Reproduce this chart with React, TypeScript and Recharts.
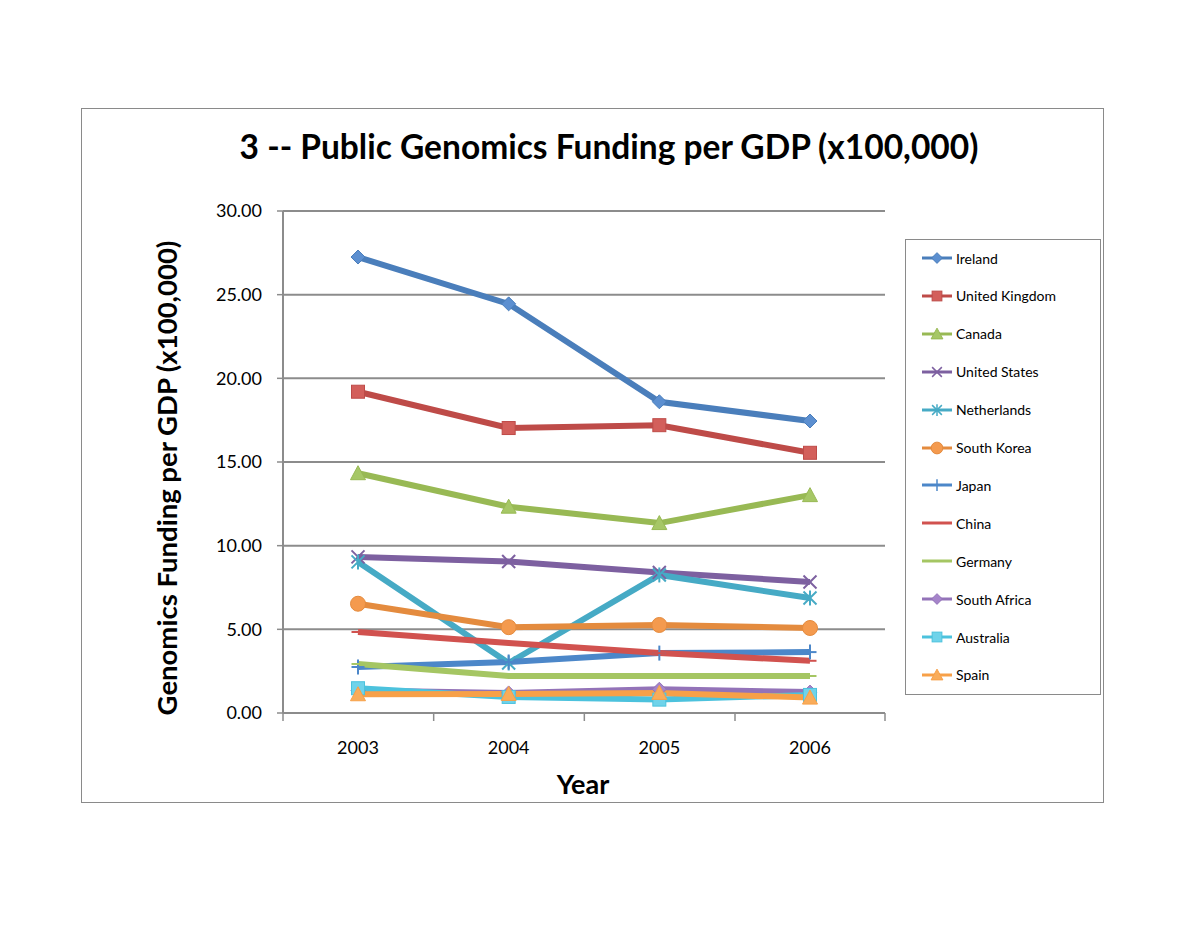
import React from "react";
import { LineChart, Line, XAxis, YAxis, CartesianGrid } from "recharts";

const years = ["2003", "2004", "2005", "2006"];
const ireland = [27.25, 24.45, 18.6, 17.45];
const unitedKingdom = [19.2, 17.03, 17.2, 15.55];
const canada = [14.33, 12.33, 11.35, 13.02];
const unitedStates = [9.33, 9.05, 8.4, 7.83];
const netherlands = [9.03, 2.99, 8.25, 6.87];
const southKorea = [6.53, 5.13, 5.26, 5.08];
const japan = [2.75, 3.05, 3.58, 3.64];
const china = [4.84, 4.18, 3.58, 3.12];
const germany = [2.93, 2.21, 2.21, 2.21];
const southAfrica = [1.35, 1.2, 1.42, 1.25];
const australia = [1.48, 0.96, 0.8, 1.08];
const spain = [1.12, 1.14, 1.2, 0.92];
const yTicks = [0, 5, 10, 15, 20, 25, 30];

type Shape = "diamond" | "square" | "triangle" | "x" | "star" | "circle" | "plus" | "dash";
type Series = { key: string; values: number[]; color: string; fill: string; shape: Shape };

const series: Series[] = [
  { key: "Ireland", values: ireland, color: "#4A7EBB", fill: "#5C8FD0", shape: "diamond" },
  { key: "United Kingdom", values: unitedKingdom, color: "#BE4B48", fill: "#D35F5B", shape: "square" },
  { key: "Canada", values: canada, color: "#98B954", fill: "#A6C766", shape: "triangle" },
  { key: "United States", values: unitedStates, color: "#7D60A0", fill: "#7D60A0", shape: "x" },
  { key: "Netherlands", values: netherlands, color: "#46AAC5", fill: "#46AAC5", shape: "star" },
  { key: "South Korea", values: southKorea, color: "#E48B3E", fill: "#F49A4E", shape: "circle" },
  { key: "Japan", values: japan, color: "#4C87C9", fill: "#4C87C9", shape: "plus" },
  { key: "China", values: china, color: "#D1524F", fill: "#D1524F", shape: "dash" },
  { key: "Germany", values: germany, color: "#A5C663", fill: "#A5C663", shape: "dash" },
  { key: "South Africa", values: southAfrica, color: "#9373B8", fill: "#A584CA", shape: "diamond" },
  { key: "Australia", values: australia, color: "#4CC2DD", fill: "#6FD3EA", shape: "square" },
  { key: "Spain", values: spain, color: "#F7A048", fill: "#F9AC5A", shape: "triangle" },
];

const data = years.map((y, i) => {
  const row: Record<string, string | number> = { year: y };
  series.forEach((s) => {
    row[s.key] = s.values[i];
  });
  return row;
});

function Marker({ shape, cx, cy, color, fill, scale = 1 }: { shape: Shape; cx: number; cy: number; color: string; fill: string; scale?: number }) {
  const r = 6.5 * scale;
  const sw = 2 * scale;
  switch (shape) {
    case "diamond":
      return <polygon points={`${cx},${cy - r - 0.5} ${cx + r + 0.5},${cy} ${cx},${cy + r + 0.5} ${cx - r - 0.5},${cy}`} fill={fill} stroke={color} strokeWidth={1} />;
    case "square":
      return <rect x={cx - r} y={cy - r} width={2 * r} height={2 * r} fill={fill} stroke={color} strokeWidth={1} />;
    case "triangle":
      return <polygon points={`${cx},${cy - r - 1} ${cx + r + 1},${cy + r} ${cx - r - 1},${cy + r}`} fill={fill} stroke={color} strokeWidth={1} />;
    case "x":
      return (
        <g stroke={color} strokeWidth={sw}>
          <line x1={cx - r} y1={cy - r} x2={cx + r} y2={cy + r} />
          <line x1={cx - r} y1={cy + r} x2={cx + r} y2={cy - r} />
        </g>
      );
    case "star":
      return (
        <g stroke={color} strokeWidth={sw}>
          <line x1={cx - r} y1={cy - r} x2={cx + r} y2={cy + r} />
          <line x1={cx - r} y1={cy + r} x2={cx + r} y2={cy - r} />
          <line x1={cx} y1={cy - r - 1} x2={cx} y2={cy + r + 1} />
        </g>
      );
    case "circle":
      return <circle cx={cx} cy={cy} r={r + 1} fill={fill} stroke={color} strokeWidth={1} />;
    case "plus":
      return (
        <g stroke={color} strokeWidth={sw}>
          <line x1={cx} y1={cy - r - 1} x2={cx} y2={cy + r + 1} />
          <line x1={cx - r} y1={cy} x2={cx + r} y2={cy} />
        </g>
      );
    case "dash":
    default:
      return <line x1={cx - r} y1={cy} x2={cx + r} y2={cy} stroke={color} strokeWidth={sw} />;
  }
}

const font = "Lato, 'Open Sans', sans-serif";

const W = 1200;
const H = 927;
const M = { top: 211, right: 315, bottom: 154, left: 203 };
const X_AXIS_H = 60;
const BAND_PAD = 75;
const plotBottom = H - M.bottom - X_AXIS_H;

function YearTick(p: any) {
  const x = p.payload.coordinate;
  const last = p.index === (p.visibleTicksCount ?? years.length) - 1;
  return (
    <g>
      <line x1={x - BAND_PAD} y1={plotBottom} x2={x - BAND_PAD} y2={plotBottom + 8} stroke="#8C8C8C" strokeWidth={1.5} />
      {last && <line x1={x + BAND_PAD} y1={plotBottom} x2={x + BAND_PAD} y2={plotBottom + 8} stroke="#8C8C8C" strokeWidth={1.5} />}
      <text x={x} y={plotBottom + 41} textAnchor="middle" fontSize={18} fill="#000" fontFamily={font}>
        {p.payload.value}
      </text>
    </g>
  );
}

export default function App() {
  return (
    <div style={{ position: "absolute", left: 0, top: 0, width: W, height: H, background: "#fff", fontFamily: font }}>
      <div style={{ position: "absolute", left: 81, top: 108, width: 1021, height: 693, border: "1px solid #8a8a8a" }} />
      <div style={{ position: "absolute", left: 0, top: 126, width: 1218, textAlign: "center", fontSize: 33.5, fontWeight: 700, color: "#000" }}>
        3 -- Public Genomics Funding per GDP (x100,000)
      </div>
      <div
        style={{
          position: "absolute",
          left: 166,
          top: 478,
          transform: "translate(-50%, -50%) rotate(-90deg)",
          whiteSpace: "nowrap",
          fontSize: 27.5,
          fontWeight: 700,
          color: "#000",
        }}
      >
        Genomics Funding per GDP (x100,000)
      </div>
      <div style={{ position: "absolute", left: 533, top: 767, width: 100, textAlign: "center", fontSize: 27, fontWeight: 700, color: "#000" }}>
        Year
      </div>
      <div style={{ position: "absolute", left: 0, top: 0 }}>
        <LineChart width={W} height={H} data={data} margin={M}>
          <CartesianGrid vertical={false} stroke="#8C8C8C" strokeWidth={2} />
          <XAxis
            dataKey="year"
            padding={{ left: BAND_PAD, right: BAND_PAD }}
            height={X_AXIS_H}
            axisLine={{ stroke: "#8C8C8C", strokeWidth: 2 }}
            tickLine={false}
            tick={(p: any) => <YearTick key={`yt-${p.index}`} {...p} />}
          />
          <YAxis
            width={80}
            domain={[0, 30]}
            ticks={yTicks}
            tickFormatter={(v: number) => v.toFixed(2)}
            axisLine={{ stroke: "#8C8C8C", strokeWidth: 2 }}
            tickLine={{ stroke: "#8C8C8C", strokeWidth: 1.5 }}
            tickSize={6}
            tickMargin={15}
            tick={{ fontSize: 18, fill: "#000", fontFamily: font }}
          />
          {series.map((s) => (
            <Line
              key={s.key}
              dataKey={s.key}
              stroke={s.color}
              strokeWidth={6}
              isAnimationActive={false}
              dot={(p: any) => (
                <Marker key={`${s.key}-${p.index}`} shape={s.shape} cx={p.cx} cy={p.cy} color={s.color} fill={s.fill} />
              )}
              activeDot={false}
            />
          ))}
        </LineChart>
      </div>
      <div style={{ position: "absolute", left: 905, top: 239, width: 194, height: 454, border: "1px solid #8a8a8a", background: "#fff" }}>
        {series.map((s, i) => (
          <div key={s.key} style={{ position: "absolute", left: 0, top: 8 + i * 37.9, height: 20, display: "flex", alignItems: "center" }}>
            <svg width={50} height={20} style={{ display: "block" }}>
              <line x1={16} y1={10} x2={46} y2={10} stroke={s.color} strokeWidth={3} />
              <Marker shape={s.shape} cx={31} cy={10} color={s.color} fill={s.fill} scale={0.75} />
            </svg>
            <span style={{ fontSize: 14, color: "#000", whiteSpace: "nowrap" }}>{s.key}</span>
          </div>
        ))}
      </div>
    </div>
  );
}
